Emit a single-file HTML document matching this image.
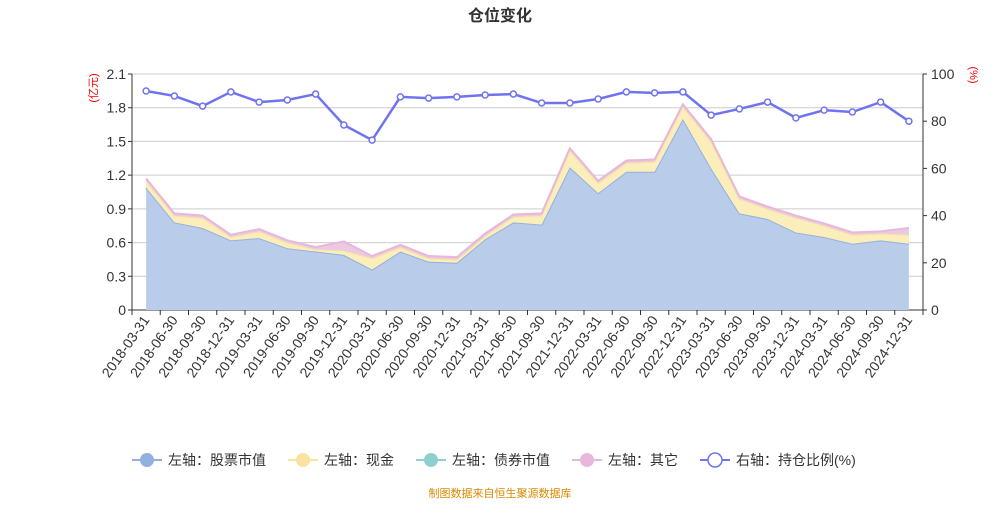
<!DOCTYPE html>
<html><head><meta charset="utf-8"><style>
body{margin:0;background:#fff;font-family:"Liberation Sans","Noto Sans CJK SC",sans-serif}
svg text{font-family:"Liberation Sans","Noto Sans CJK SC",sans-serif}
</style></head><body>
<svg id="c" width="1000" height="500">
<text x="500" y="21" text-anchor="middle" font-size="16" font-weight="bold" fill="#333">仓位变化</text>
<text transform="translate(97,88) rotate(-90)" text-anchor="middle" font-size="11" fill="#e00">(亿元)</text>
<text transform="translate(970,75) rotate(90)" text-anchor="middle" font-size="11" fill="#e00">(%)</text>
<g id="grid"></g><g id="areas"></g><g id="axes"></g><g id="line"></g>
<g id="legend" font-size="14" fill="#333"></g>
<text x="500" y="497" text-anchor="middle" font-size="11" fill="#d58a00">制图数据来自恒生聚源数据库</text>
</svg>
<script>
const categories=["2018-03-31","2018-06-30","2018-09-30","2018-12-31","2019-03-31","2019-06-30","2019-09-30","2019-12-31","2020-03-31","2020-06-30","2020-09-30","2020-12-31","2021-03-31","2021-06-30","2021-09-30","2021-12-31","2022-03-31","2022-06-30","2022-09-30","2022-12-31","2023-03-31","2023-06-30","2023-09-30","2023-12-31","2024-03-31","2024-06-30","2024-09-30","2024-12-31"];
const stock=[1.09,0.78,0.73,0.62,0.64,0.55,0.52,0.49,0.36,0.52,0.43,0.42,0.63,0.78,0.76,1.27,1.04,1.23,1.23,1.70,1.26,0.86,0.81,0.69,0.65,0.59,0.62,0.59];
const cash=[0.06,0.06,0.09,0.03,0.06,0.05,0.02,0.04,0.10,0.04,0.03,0.03,0.03,0.05,0.08,0.15,0.09,0.08,0.09,0.11,0.24,0.13,0.09,0.13,0.10,0.08,0.06,0.08];
const bond=[0,0,0,0,0,0,0,0,0,0,0,0,0,0,0,0,0,0,0,0,0,0,0,0,0,0,0,0];
const other=[0.02,0.02,0.02,0.02,0.02,0.02,0.02,0.08,0.02,0.02,0.02,0.02,0.02,0.02,0.02,0.02,0.02,0.02,0.02,0.02,0.02,0.02,0.02,0.02,0.02,0.02,0.02,0.06];
const ratio=[92.8,90.7,86.4,92.4,88.1,89,91.5,78.4,72,90.3,89.8,90.3,91.1,91.5,87.7,87.7,89.4,92.4,92,92.4,82.6,85.2,88.1,81.4,84.7,83.9,88.1,80];
const leftTicks=["0","0.3","0.6","0.9","1.2","1.5","1.8","2.1"];
const rightTicks=["0","20","40","60","80","100"];
const X0=132,X1=923,Y0=310,Y1=74,NS="http://www.w3.org/2000/svg";
const bw=(X1-X0)/categories.length;
const xs=i=>X0+bw*(i+0.5), yl=v=>Y0-(v/2.1)*(Y0-Y1), yr=v=>Y0-(v/100)*(Y0-Y1);
function mk(p,t,a){const e=document.createElementNS(NS,t);for(const k in a)e.setAttribute(k,a[k]);document.getElementById(p).appendChild(e);return e;}
leftTicks.forEach(t=>{const y=yl(+t);
 const g=mk('grid','line',{x1:X0,x2:X1,y1:y,y2:y,stroke:t==="0"?"#333":"#ccc"});
 
 const tx=mk('axes','text',{x:X0-6,y:y+5,'text-anchor':'end','font-size':14,fill:'#333'});tx.textContent=t;
 
 mk('axes','line',{x1:X0-4,x2:X0,y1:y,y2:y,stroke:'#333'});});
rightTicks.forEach(t=>{const y=yr(+t);
 const tx=mk('axes','text',{x:X1+8,y:y+5,'font-size':14,fill:'#333'});tx.textContent=t;
 
 mk('axes','line',{x1:X1,x2:X1+4,y1:y,y2:y,stroke:'#333'});});
mk('axes','line',{x1:X0,x2:X0,y1:Y1,y2:Y0,stroke:'#333'});
mk('axes','line',{x1:X1,x2:X1,y1:Y1,y2:Y0,stroke:'#333'});
categories.forEach((c,i)=>{const x=X0+bw*i;mk('axes','line',{x1:x,x2:x,y1:Y0,y2:Y0+5,stroke:'#333'});
 const t=mk('axes','text',{transform:`translate(${xs(i)+4},${Y0+10}) rotate(-55)`,'text-anchor':'end','font-size':14,fill:'#333'});t.textContent=c;
 });
mk('axes','line',{x1:X1,x2:X1,y1:Y0,y2:Y0+5,stroke:'#333'});
const series=[[stock,'#b9cdea','#93b0e0','stock-area',true],[cash,'#fbeebb','#f8e4a0','cash-area',true],[bond,'#a6dcdc','#8dd0d0','bond-area',false],[other,'#ecc9e3','#e6b8db','other-area',true]];
let base=categories.map(()=>0);
series.forEach(([d,f,s,n,edge])=>{const top=base.map((b,i)=>b+d[i]);
 let p=top.map((v,i)=>`${xs(i)},${yl(v)}`).join(' L');
 let q=base.map((v,i)=>`${xs(i)},${yl(v)}`).reverse().join(' L');
 const a=mk('areas','path',{d:`M${p} L${q} Z`,fill:f});
 if(edge){const l=mk('areas','path',{d:`M${p}`,fill:'none',stroke:s,'stroke-width':2});}
 base=top;});
const pl=mk('line','path',{d:'M'+ratio.map((v,i)=>`${xs(i)},${yr(v)}`).join(' L'),fill:'none',stroke:'#7073f0','stroke-width':2.5});

ratio.forEach((v,i)=>{const c=mk('line','circle',{cx:xs(i),cy:yr(v),r:3,fill:'#fff',stroke:'#7073f0','stroke-width':1.5});
 });
const leg=[['左轴：股票市值','#93b0e0',false,132],['左轴：现金','#f8e4a0',false,288],['左轴：债券市值','#8dd0d0',false,416],['左轴：其它','#e6b8db',false,572],['右轴：持仓比例(%)','#7073f0',true,700]];
leg.forEach(([t,c,o,x])=>{const y=460;
 const g=mk('legend','g',{});
 const l=document.createElementNS(NS,'line');[['x1',x],['x2',x+30],['y1',y],['y2',y],['stroke',c],['stroke-width',2]].forEach(([k,v])=>l.setAttribute(k,v));g.appendChild(l);
 const ci=document.createElementNS(NS,'circle');[['cx',x+15],['cy',y],['r',7],['fill',o?'#fff':c],['stroke',c],['stroke-width',o?1.5:0]].forEach(([k,v])=>ci.setAttribute(k,v));g.appendChild(ci);
 const tx=document.createElementNS(NS,'text');tx.setAttribute('x',x+36);tx.setAttribute('y',y+5);tx.textContent=t;g.appendChild(tx);});
</script>
</body></html>
